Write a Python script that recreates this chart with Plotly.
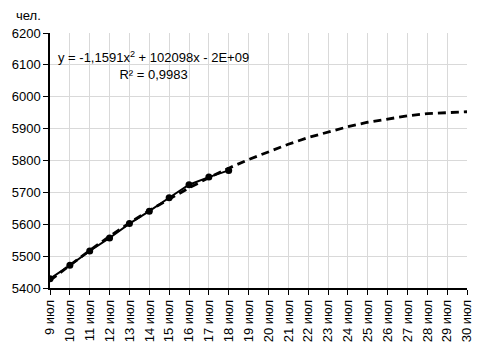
import plotly.graph_objects as go

labels = ["9 июл", "10 июл", "11 июл", "12 июл", "13 июл", "14 июл", "15 июл", "16 июл",
          "17 июл", "18 июл", "19 июл", "20 июл", "21 июл", "22 июл", "23 июл", "24 июл",
          "25 июл", "26 июл", "27 июл", "28 июл", "29 июл", "30 июл"]
# observed values (first 10 days)
observed = [5429, 5471, 5516, 5557, 5602, 5641, 5683, 5724, 5748, 5769]
# polynomial trendline, all 22 days
trend = [5424, 5472, 5518, 5562, 5604, 5643, 5679, 5714, 5746, 5776, 5803, 5828,
         5851, 5872, 5890, 5906, 5920, 5931, 5940, 5947, 5951, 5953]

x_all = list(range(len(labels)))
x_obs = x_all[:len(observed)]

fig = go.Figure()
fig.add_trace(go.Scatter(x=x_all, y=trend, mode="lines",
                         line=dict(color="black", width=2.8, dash="8px,5px"),
                         hoverinfo="skip", showlegend=False))
fig.add_trace(go.Scatter(x=x_obs, y=observed, mode="lines+markers",
                         line=dict(color="black", width=2),
                         marker=dict(color="black", size=7),
                         showlegend=False))

font = "Liberation Sans, Arial, sans-serif"
fig.update_layout(
    width=486, height=354,
    margin=dict(l=46, r=19, t=33, b=65),
    paper_bgcolor="white", plot_bgcolor="white",
    font=dict(family=font, size=13, color="black"),
    xaxis=dict(range=[0, len(labels) - 1], tickvals=x_all, ticktext=labels,
               tickangle=-90, showgrid=True, gridcolor="#d9d9d9", gridwidth=1,
               showline=True, linecolor="black", linewidth=1.5,
               ticks="outside", ticklen=5, tickcolor="black", zeroline=False,
               tickfont=dict(size=13)),
    yaxis=dict(range=[5400, 6200], dtick=100, showgrid=True, gridcolor="#d9d9d9",
               gridwidth=1, showline=True, linecolor="black", linewidth=1.5,
               ticks="outside", ticklen=5, tickcolor="black", zeroline=False,
               tickfont=dict(size=13)),
    annotations=[
        dict(text="y = -1,1591x<sup>2</sup> + 102098x - 2E+09<br>R² = 0,9983",
             xref="paper", yref="paper", x=(150 - 46) / 421, y=1 - (65 - 33) / 255,
             xanchor="center", yanchor="middle", showarrow=False,
             align="center", font=dict(size=13)),
        dict(text="чел.", xref="paper", yref="paper", x=-36 / 421, y=1 + 18 / 255,
             xanchor="left", yanchor="middle", showarrow=False, font=dict(size=13)),
    ],
)
fig.write_html("out.html")
